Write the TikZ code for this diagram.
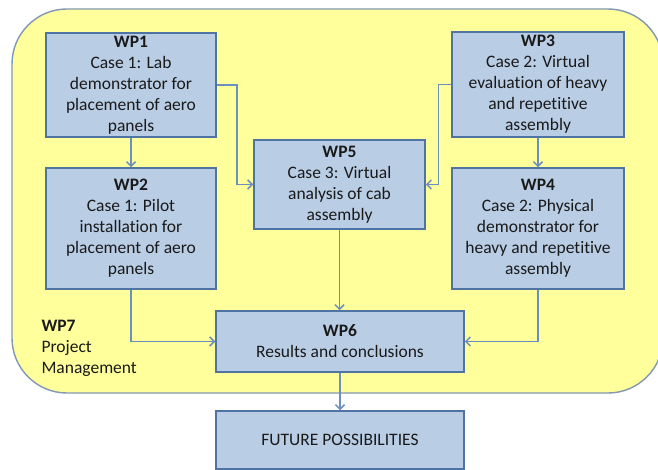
\documentclass[tikz,border=0pt]{standalone}
\usepackage{fontspec}
\setmainfont{Carlito}[Ligatures={NoCommon}]
\usetikzlibrary{arrows.meta,
	calc}
\definecolor{wpfill}{HTML}{B9CDE5}
\definecolor{wpline}{HTML}{4F74A3}
\definecolor{linkcol}{HTML}{6B8FBF}
\definecolor{wp7fill}{HTML}{FFFF9C}
\definecolor{wp7line}{HTML}{8197B3}
\definecolor{wptext}{HTML}{1A1A1A}

\begin{document}
\begin{tikzpicture}[x=1pt,y=-1pt,
	wpbox/.style={draw=wpline,fill=wpfill,line width=1.5pt,align=center,
		inner sep=0pt,text=wptext,font=\fontsize{17.5}{21}\selectfont},
	link/.style={draw=linkcol,line width=1.5pt,
		-{Straight Barb[length=4.5pt,width=9pt]}}]
	\useasboundingbox[fill=white] (0,0) rectangle (658,470);
	% project management frame
	\draw[fill=wp7fill,draw=wp7line,line width=1.4pt,rounded corners=55pt]
		(12,9) rectangle (663,393);
	\node (wp7) at (38,348) [anchor=west,align=left,text=wptext,
		font=\fontsize{17.5}{21}\selectfont]
		{\textbf{WP7}\\Project\\Management};
	% work packages
	\node (wp1) at (131,85) [wpbox,minimum width=170pt,minimum height=104pt]
		{\textbf{WP1}\\Case 1: Lab\\demonstrator for\\placement of aero\\panels};
	\node (wp2) at (131,228.5) [wpbox,minimum width=170pt,minimum height=121pt]
		{\textbf{WP2}\\Case 1: Pilot\\installation for\\placement of aero\\panels};
	\node (wp3) at (538,84.5) [wpbox,minimum width=172pt,minimum height=105pt]
		{\textbf{WP3}\\Case 2: Virtual\\evaluation of heavy\\and repetitive\\assembly};
	\node (wp4) at (538,228.5) [wpbox,minimum width=172pt,minimum height=121pt]
		{\textbf{WP4}\\Case 2: Physical\\demonstrator for\\heavy and repetitive\\assembly};
	\node (wp5) at (339.5,184.5) [wpbox,minimum width=171pt,minimum height=89pt]
		{\textbf{WP5}\\Case 3: Virtual\\analysis of cab\\assembly};
	\node (wp6) at (340,341.5) [wpbox,minimum width=248pt,minimum height=61pt]
		{\textbf{WP6}\\Results and conclusions};
	\node (future) at (340,440) [wpbox,minimum width=248pt,minimum height=58pt]
		{FUTURE POSSIBILITIES};
	% links
	\draw[link] (wp1) -- (wp2);
	\draw[link] (wp3) -- (wp4);
	\draw[link] (wp1.east) -- ++(20,0) |- (wp5.west);
	\draw[link] (wp3.west) -- ++(-13,0) |- (wp5.east);
	\draw[link] (wp5.south) -- (wp5.south |- wp6.north);
	\draw[link] (wp2.south) |- (wp6.west);
	\draw[link] (wp4.south) |- (wp6.east);
	\draw[link] (wp6) -- (future);
\end{tikzpicture}
\end{document}
